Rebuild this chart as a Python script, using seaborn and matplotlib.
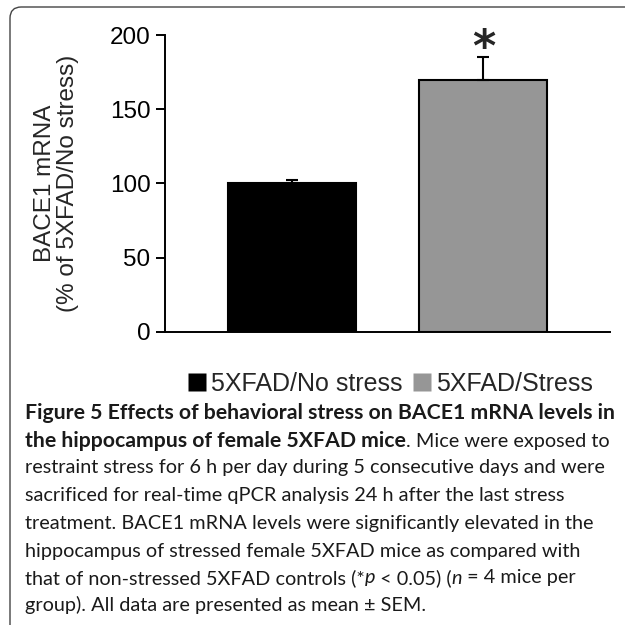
import matplotlib
matplotlib.use("Agg")
import matplotlib.pyplot as plt
from matplotlib.patches import FancyBboxPatch
from matplotlib.lines import Line2D
import seaborn as sns
import pandas as pd

# data
groups = ["5XFAD/No stress", "5XFAD/Stress"]
means = [100, 170]
sems = [2.5, 15]
bar_colors = ["#000000", "#969696"]

caption_font = "Lato"
chart_font = "Liberation Sans"

sns.set_theme(style="ticks")
plt.rcParams["font.family"] = [chart_font, "DejaVu Sans"]

df = pd.DataFrame({"group": groups, "mean": means})

fig = plt.figure(figsize=(6.25, 6.25), dpi=100)
ax = fig.add_axes([0.264, 0.469, 0.712, 0.475])

sns.barplot(data=df, x="group", y="mean", hue="group", palette=bar_colors,
            width=0.667, edgecolor="black", linewidth=1.5, legend=False, ax=ax)
ax.errorbar(range(len(means)), means, yerr=[[0] * len(sems), sems], fmt="none",
            ecolor="black", elinewidth=1.5, capsize=4.5, capthick=1.5)
ax.annotate("*", xy=(1, means[1] + sems[1]), xytext=(0, -9), textcoords="offset points",
            ha="center", va="bottom", fontsize=32, fontweight="bold", family="DejaVu Sans")

ax.set_ylim(0, 200)
ax.set_xlim(-0.66, 1.66)
ax.set_yticks([0, 50, 100, 150, 200])
ax.set_xticks([])
ax.set_xlabel("")
ax.set_ylabel("BACE1 mRNA\n(% of 5XFAD/No stress)", fontsize=17.5, labelpad=22, linespacing=1.05)
ax.tick_params(axis="y", labelsize=17.5, length=6.5, width=1.4, direction="out", pad=4, colors="black")
for s in ["top", "right"]:
    ax.spines[s].set_visible(False)
for s in ["left", "bottom"]:
    ax.spines[s].set_linewidth(1.4)
    ax.spines[s].set_color("black")

handles = [Line2D([], [], marker="s", linestyle="none", markersize=13,
                  markerfacecolor=c, markeredgecolor="none") for c in bar_colors]
fig.legend(handles, groups, loc="center", bbox_to_anchor=(390 / 625, 1 - 384 / 625),
           ncol=2, frameon=False, fontsize=18, handlelength=0.8, handletextpad=0.15,
           columnspacing=0.4)

# rounded frame around the figure panel
frame = FancyBboxPatch((10 / 625, -0.2), 1.2, 1 - 7 / 625 + 0.2,
                       boxstyle="round,pad=0,rounding_size=0.018",
                       transform=fig.transFigure, fill=False, edgecolor="#444444", linewidth=1.0)
fig.patches.append(frame)

# caption: bold Lato runs wider than the original, so the two weights get different sizes
bold_size = 15.3
reg_size = 14.3
x0 = 25 / 625
line_y = [413, 441, 468, 496, 524, 551, 578, 605]
lines = [
    [("Figure 5 Effects of behavioral stress on BACE1 mRNA levels in", "bold", "normal")],
    [("the hippocampus of female 5XFAD mice", "bold", "normal"), (". Mice were exposed to", "normal", "normal")],
    [("restraint stress for 6 h per day during 5 consecutive days and were", "normal", "normal")],
    [("sacrificed for real-time qPCR analysis 24 h after the last stress", "normal", "normal")],
    [("treatment. BACE1 mRNA levels were significantly elevated in the", "normal", "normal")],
    [("hippocampus of stressed female 5XFAD mice as compared with", "normal", "normal")],
    [("that of non-stressed 5XFAD controls (*", "normal", "normal"), ("p", "normal", "italic"),
     (" < 0.05) (", "normal", "normal"), ("n", "normal", "italic"), (" = 4 mice per", "normal", "normal")],
    [("group). All data are presented as mean \u00b1 SEM.", "normal", "normal")],
]
for y, parts in zip(line_y, lines):
    last = None
    for txt, weight, style in parts:
        kw = dict(fontsize=bold_size if weight == "bold" else reg_size, fontweight=weight,
                  fontstyle=style, family=[caption_font, "DejaVu Sans"], color="#1a1a1a",
                  va="center", ha="left")
        if last is None:
            last = fig.text(x0, 1 - y / 625, txt, **kw)
        else:
            last = ax.annotate(txt, xy=(1, 0.5), xycoords=last, annotation_clip=False, **kw)

fig.savefig("out.png", dpi=100)
